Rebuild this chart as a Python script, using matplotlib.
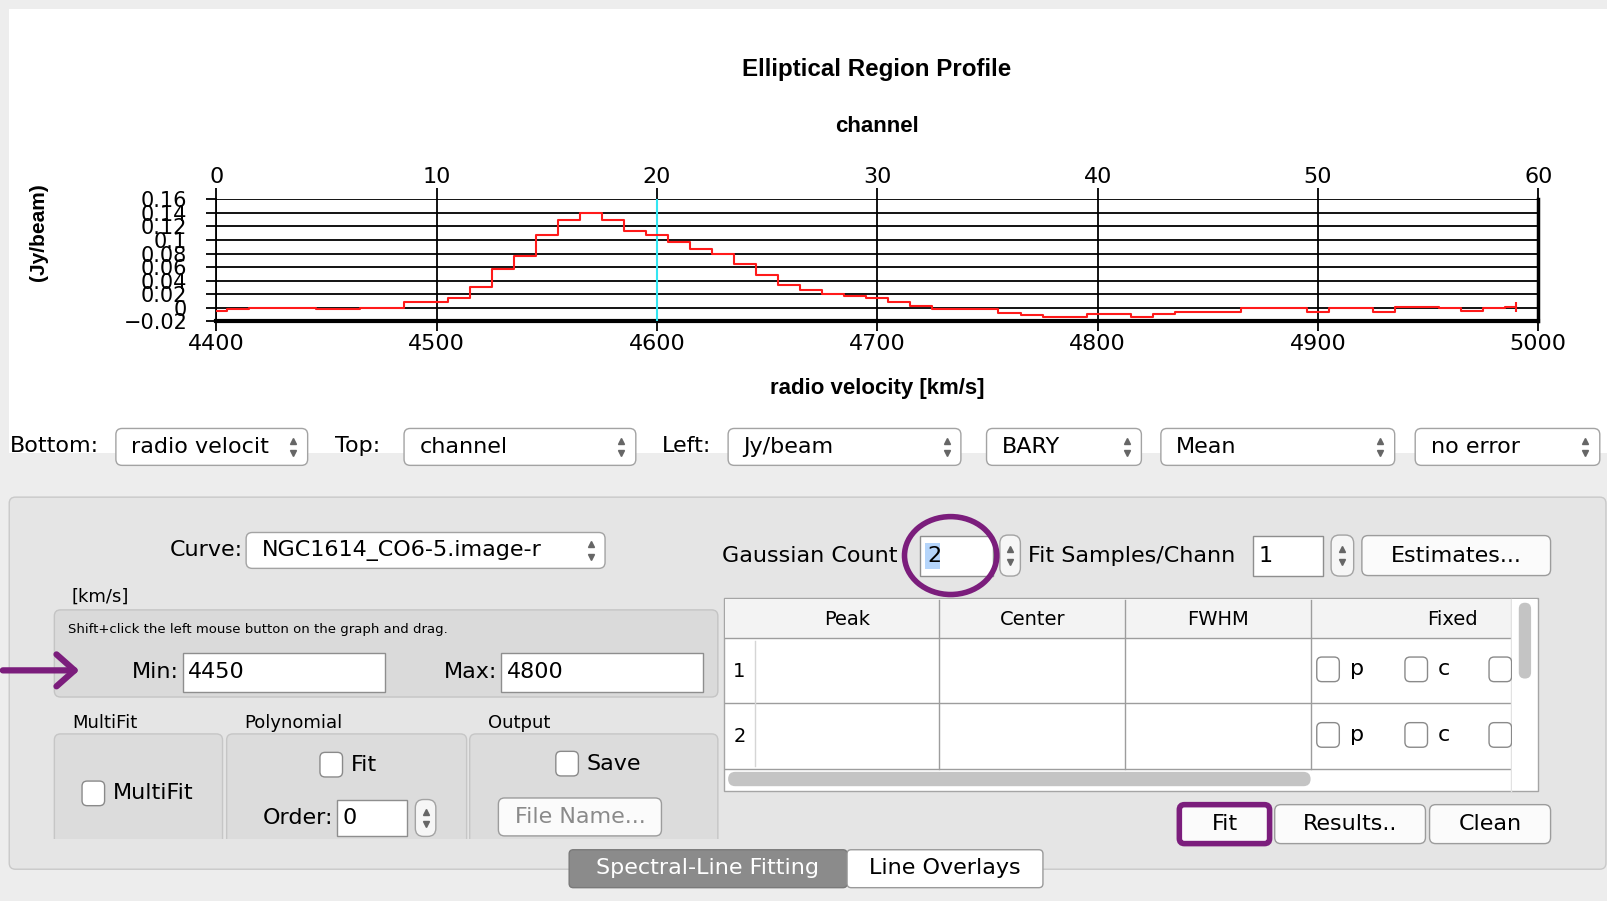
import numpy as np
import matplotlib.pyplot as plt
from matplotlib.patches import FancyBboxPatch, Rectangle, Ellipse

# ---- data (one value per channel) ----
channels = np.arange(60)
flux = [-0.005, -0.002, 0.0, 0.0, 0.0, -0.002, -0.002, 0.0, 0.0, 0.008,
        0.008, 0.015, 0.031, 0.057, 0.077, 0.107, 0.130, 0.140, 0.130, 0.113,
        0.107, 0.097, 0.086, 0.080, 0.064, 0.048, 0.034, 0.026, 0.020, 0.017,
        0.015, 0.009, 0.003, -0.002, -0.002, -0.002, -0.008, -0.011, -0.013, -0.013,
        -0.010, -0.010, -0.013, -0.010, -0.006, -0.006, -0.006, -0.001, -0.001, -0.001,
        -0.006, -0.001, -0.001, -0.006, 0.001, 0.001, -0.001, -0.005, -0.001, 0.001]
vel_ticks = [4400, 4500, 4600, 4700, 4800, 4900, 5000]
chan_ticks = [0, 10, 20, 30, 40, 50, 60]
flux_ticks = [-0.02, 0, 0.02, 0.04, 0.06, 0.08, 0.1, 0.12, 0.14, 0.16]
flux_tick_labels = ['\u22120.02', '0', '0.02', '0.04', '0.06', '0.08', '0.1', '0.12', '0.14', '0.16']
cursor_chan = 20

V0, DV = 4400.0, 10.0   # velocity of channel 0, km/s per channel

def chan2vel(c):
    return V0 + DV * np.asarray(c, dtype=float)

def vel2chan(v):
    return (np.asarray(v, dtype=float) - V0) / DV

purple = '#7b1d7c'
narrow = ['Liberation Sans Narrow', 'Liberation Sans', 'DejaVu Sans']

W, H = 1568, 879
fig = plt.figure(figsize=(16.08, 9.01), dpi=100)
fig.patch.set_facecolor('#ededed')

# gui layer in screen pixels (y down)
ui = fig.add_axes([0, 0, 1, 1], zorder=0)
ui.set_xlim(0, W)
ui.set_ylim(H, 0)
ui.axis('off')


def rbox(x0, y0, x1, y1, fc, ec='#a9a9a9', lw=1.0, r=5, z=2):
    style = 'square,pad=0' if r == 0 else f'round,pad=0,rounding_size={r}'
    ui.add_patch(FancyBboxPatch((x0, y0), x1 - x0, y1 - y0, boxstyle=style,
                                fc=fc, ec=ec, lw=lw, zorder=z))


def txt(x, y, s, size=16, ha='left', color='black', z=6, **kw):
    ui.text(x, y, s, fontsize=size, ha=ha, va='center', color=color, zorder=z, **kw)


def updown(xc, yc):
    ui.plot([xc], [yc - 6], marker='^', ms=4.5, color='#666666', zorder=6)
    ui.plot([xc], [yc + 6], marker='v', ms=4.5, color='#666666', zorder=6)


def dropdown(x0, x1, yc, label, h=36, size=16):
    rbox(x0, yc - h / 2, x1, yc + h / 2, 'white', '#a3a3a3', r=6, z=3)
    txt(x0 + 15, yc, label, size=size)
    updown(x1 - 14, yc)


def spinner(x0, x1, yc, h):
    rbox(x0, yc - h / 2, x1, yc + h / 2, '#f6f6f6', '#a3a3a3', r=8, z=3)
    updown((x0 + x1) / 2, yc)


def field(x0, x1, yc, h, s, size=16):
    rbox(x0, yc - h / 2, x1, yc + h / 2, 'white', '#8e8e8e', r=0, z=3)
    txt(x0 + 5, yc, s, size=size)


def checkbox(x0, yc, label, size=16, gap=8):
    rbox(x0, yc - 12, x0 + 22, yc + 12, 'white', '#8a8a8a', r=5, z=4)
    if label:
        txt(x0 + 22 + gap, yc, label, size=size)


def button(x0, x1, yc, h, label, color='black', size=16):
    rbox(x0, yc - h / 2, x1, yc + h / 2, '#fbfbfb', '#9c9c9c', r=6, z=3)
    txt((x0 + x1) / 2, yc, label, size=size, ha='center', color=color)


# window backgrounds
ui.add_patch(Rectangle((9, 9), W - 9, 433, fc='white', ec='none', zorder=1))
rbox(9, 485, 1566, 848, '#e5e5e5', '#c9c9c9', r=6, z=1)

# chart titles
txt(855, 68, 'Elliptical Region Profile', size=17.4, ha='center', weight='bold', family=narrow)
txt(855, 123, 'channel', size=16, ha='center', weight='bold', family=narrow)
txt(855, 379, 'radio velocity [km/s]', size=16, ha='center', weight='bold', family=narrow)
ui.text(38, 226, '(Jy/beam)', fontsize=15, rotation=90, ha='center', va='center',
        weight='bold', family=narrow, zorder=6)

# axis selector row
for lab, x in [('Bottom:', 10), ('Top:', 327), ('Left:', 645)]:
    txt(x, 435, lab)
for x0, x1, lab in [(113, 300, 'radio velocit'), (394, 620, 'channel'), (710, 937, 'Jy/beam'),
                    (962, 1113, 'BARY'), (1132, 1360, 'Mean'), (1380, 1560, 'no error')]:
    dropdown(x0, x1, 436, lab)

# left half of the fitting panel
txt(237, 537, 'Curve:', ha='right')
dropdown(240, 590, 537, 'NGC1614_CO6-5.image-r', h=35)
txt(70, 582, '[km/s]', size=13)
rbox(53, 595, 700, 680, '#dadada', '#c4c4c4', r=6, z=2)
txt(66, 614, 'Shift+click the left mouse button on the graph and drag.', size=9.5)
txt(174, 656, 'Min:', ha='right')
field(178, 375, 656, 38, '4450')
txt(485, 656, 'Max:', ha='right')
field(489, 686, 656, 38, '4800')
ui.annotate('', xy=(80, 654), xytext=(0, 654), zorder=7,
            arrowprops=dict(arrowstyle='->,head_length=1.3,head_width=1.15', lw=4.5, color=purple))

for lab, x in [('MultiFit', 70), ('Polynomial', 238), ('Output', 476)]:
    txt(x, 705, lab, size=13)
for x0, x1 in [(53, 217), (221, 455), (458, 700)]:
    rbox(x0, 716, x1, 840, '#dcdcdc', '#c6c6c6', r=6, z=2)
ui.add_patch(Rectangle((45, 819), 670, 25, fc='#e5e5e5', ec='none', zorder=2.5))
checkbox(80, 774, 'MultiFit')
checkbox(312, 746, 'Fit')
txt(325, 798, 'Order:', ha='right')
field(329, 397, 798, 35, '0')
spinner(405, 425, 798, 36)
checkbox(542, 745, 'Save')
button(486, 645, 797, 37, 'File Name...', color='#8a8a8a')

# right half: gaussian settings
txt(704, 542, 'Gaussian Count')
field(897, 968, 542, 39, '')
ui.add_patch(Rectangle((902, 530), 15, 25, fc='#b5d5fb', ec='none', zorder=4))
txt(904, 542, '2')
spinner(975, 995, 542, 40)
ui.add_patch(Ellipse((927, 542), 90, 76, fill=False, ec=purple, lw=4, zorder=7))
txt(1002, 542, 'Fit Samples/Chann')
field(1222, 1290, 542, 39, '1')
spinner(1298, 1320, 542, 40)
button(1328, 1512, 542, 39, 'Estimates...')

# gaussian table
ui.add_patch(Rectangle((706, 583), 794, 189, fc='white', ec='#a5a5a5', lw=1, zorder=2))
ui.add_patch(Rectangle((707, 584), 766, 38, fc='#f3f3f3', ec='none', zorder=2.5))
for x in [916, 1097, 1278]:
    ui.plot([x, x], [585, 750], color='#9d9d9d', lw=1, zorder=3)
for y in [622, 686, 750]:
    ui.plot([707, 1473], [y, y], color='#9d9d9d', lw=1, zorder=3)
ui.plot([736, 736], [625, 747], color='#d5d5d5', lw=1, zorder=3)
ui.plot([1473, 1473], [584, 772], color='#e2e2e2', lw=1, zorder=3)
for lab, x in [('Peak', 826), ('Center', 1007), ('FWHM', 1188), ('Fixed', 1416)]:
    txt(x, 604, lab, size=14, ha='center')
for row, y in [('1', 655), ('2', 719)]:
    txt(715, y, row, size=14)
    checkbox(1284, y - 2, 'p', gap=10)
    checkbox(1370, y - 2, 'c', gap=10)
    rbox(1452, y - 14, 1474, y + 10, 'white', '#8a8a8a', r=5, z=4)
ui.add_patch(Rectangle((1474, 584), 25, 187, fc='white', ec='none', zorder=5))
rbox(1481, 588, 1493, 662, '#c4c4c4', 'none', r=6, z=6)
rbox(710, 753, 1278, 767, '#c4c4c4', 'none', r=7, z=6)

# action buttons and tabs
button(1150, 1238, 804, 38, 'Fit')
button(1243, 1390, 804, 38, 'Results..')
button(1394, 1512, 804, 38, 'Clean')
rbox(1150, 785, 1238, 823, 'none', purple, lw=4, r=5, z=7)
rbox(555, 829, 826, 866, '#8b8b8b', '#7a7a7a', r=4, z=4)
txt(690, 847, 'Spectral-Line Fitting', ha='center', color='white')
rbox(826, 829, 1017, 866, 'white', '#9a9a9a', r=4, z=4)
txt(921, 847, 'Line Overlays', ha='center')

# ---- the profile plot ----
x0p, x1p, ytop, ybot = 211, 1500, 194.5, 313.4
ax = fig.add_axes([x0p / W, 1 - ybot / H, (x1p - x0p) / W, (ybot - ytop) / H], zorder=1)
ax.patch.set_alpha(0)
ax.plot(chan2vel(channels), flux, color='#ff1a1a', lw=1.5, drawstyle='steps-mid',
        marker='|', markevery=[len(flux) - 1], ms=7, mew=1.5, zorder=4)
ax.axvline(chan2vel(cursor_chan), color='#33e6f2', lw=1.5, zorder=3)
ax.set_xlim(chan2vel(0), chan2vel(60))
ax.set_ylim(-0.02, 0.16)
ax.set_xticks(vel_ticks)
ax.set_yticks(flux_ticks, flux_tick_labels)
ax.grid(True, color='black', lw=1.3, zorder=2)
ax.tick_params(axis='x', length=7, width=1.3, pad=2, labelsize=16)
ax.tick_params(axis='y', length=7, width=1.3, pad=14, labelsize=15)
ax.spines['top'].set_visible(False)
ax.spines['left'].set_linewidth(1.3)
ax.spines['bottom'].set_linewidth(3)
ax.spines['right'].set_linewidth(2.5)

top = ax.secondary_xaxis('top', functions=(vel2chan, chan2vel))
top.set_xticks(chan_ticks)
top.tick_params(length=8, width=1.3, pad=1, labelsize=16)
top.spines['top'].set_visible(False)

fig.savefig('out.png', dpi=100)
